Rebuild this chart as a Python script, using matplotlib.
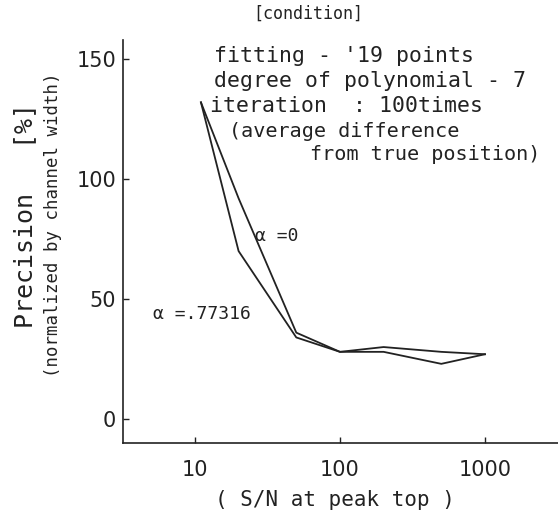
import matplotlib
matplotlib.use("Agg")
import matplotlib.pyplot as plt

# S/N at peak top and precision [%] for the two alpha values
sn = [11, 20, 50, 100, 200, 500, 1000]
prec_a0 = [132, 92, 36, 28, 30, 28, 27]
prec_a77 = [132, 70, 34, 28, 28, 23, 27]

yticks = [0, 50, 100, 150]
xticks = [10, 100, 1000]
xticklabels = ["10", "100", "1000"]

condition = ["fitting - '19 points",
             "degree of polynomial - 7",
             "iteration  : 100times"]

W, H = 558, 519
fig = plt.figure(figsize=(W / 100, H / 100), dpi=100)
ax = fig.add_axes([123 / W, 1 - 443 / H, 1 - 123 / W, (443 - 40) / H])

ax.plot(sn, prec_a0, color="#222222", lw=1.3)
ax.plot(sn, prec_a77, color="#222222", lw=1.3)

ax.set_xscale("log")
ax.set_xlim(3.19, 3190)
ax.set_ylim(-10, 158)
ax.set_xticks(xticks)
ax.set_xticklabels(xticklabels)
ax.minorticks_off()
ax.set_yticks(yticks)
ax.tick_params(direction="in", length=4, width=1, labelsize=15, colors="#222222")
ax.tick_params(axis="x", pad=12)
ax.tick_params(axis="y", pad=5)
for s in ["top", "right"]:
    ax.spines[s].set_visible(False)
for s in ["left", "bottom"]:
    ax.spines[s].set_color("#222222")
    ax.spines[s].set_linewidth(1.2)

mono = "DejaVu Sans Mono"
col = "#222222"


def ftext(x, y, s, **kw):
    fig.text(x / W, 1 - y / H, s, family=mono, color=col, **kw)


ftext(308, 14, "[condition]", fontsize=12, ha="center", va="center")
for i, line in enumerate(condition):
    ftext(214 - 4 * (i == 2), 56 + 25 * i, line, fontsize=15.5, va="center")
ftext(229, 131, "(average difference", fontsize=14.5, va="center")
ftext(310, 155, "from true position)", fontsize=14.5, va="center")

ftext(255, 236, "α =0", fontsize=13, va="center")
ftext(153, 314, "α =.77316", fontsize=13, va="center")

ftext(25, 216, "Precision   [%]", fontsize=18, rotation=90, ha="center", va="center")
ftext(53, 225, "(normalized by channel width)", fontsize=12.5, rotation=90,
      ha="center", va="center")
ftext(335, 500, "( S/N at peak top )", fontsize=15, ha="center", va="center")

fig.savefig("out.png", dpi=100)
